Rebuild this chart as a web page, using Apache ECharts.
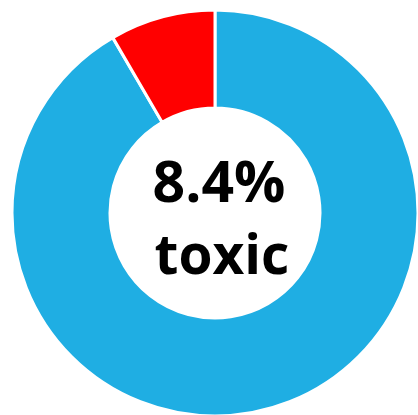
<!DOCTYPE html>
<html><head><meta charset="utf-8">
<script src="https://cdn.jsdelivr.net/npm/echarts@6/dist/echarts.min.js"></script>
<style>html,body{margin:0;padding:0;background:#fff}#c{width:418px;height:415px}</style>
</head><body><div id="c"></div>
<script>
const categories = ['non-toxic', 'toxic'];
const values = [91.6, 8.4];
const colors = ['#1FAEE3', '#FF0000'];
const centerLabel = '8.4%';
const centerWord = 'toxic';

const chart = echarts.init(document.getElementById('c'), null, {renderer: 'canvas'});
chart.setOption({
  animation: false,
  series: [{
    type: 'pie',
    center: [215, 213],
    radius: [105, 203],
    startAngle: 90,
    clockwise: true,
    label: {show: false},
    labelLine: {show: false},
    itemStyle: {borderColor: '#fff', borderWidth: 3},
    data: categories.map((c, i) => ({name: c, value: values[i], itemStyle: {color: colors[i]}}))
  }],
  graphic: [
    {type: 'text', x: 219, y: 186, style: {text: centerLabel, font: 'bold 57px "Open Sans"', fill: '#000', align: 'center', verticalAlign: 'middle'}},
    {type: 'text', x: 222, y: 258, style: {text: centerWord, font: 'bold 55px "Open Sans"', fill: '#000', align: 'center', verticalAlign: 'middle'}}
  ]
});
</script></body></html>
